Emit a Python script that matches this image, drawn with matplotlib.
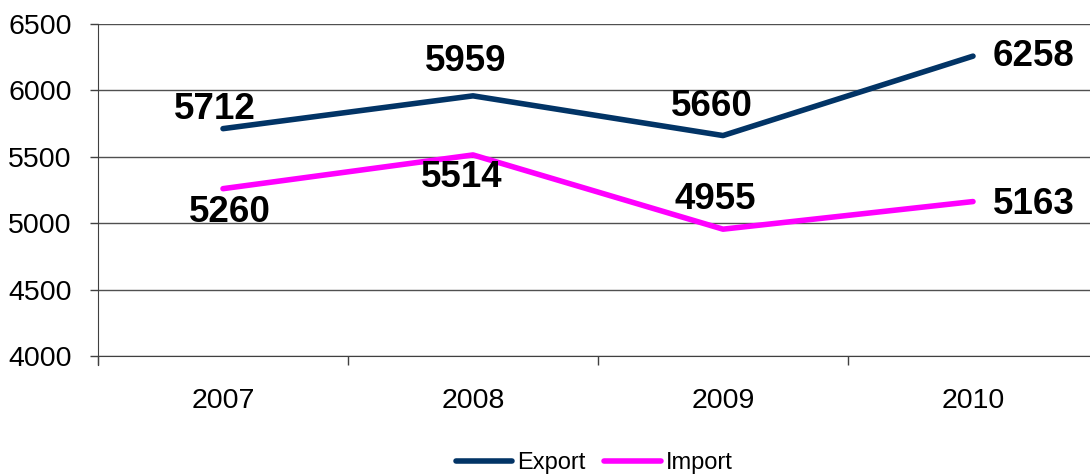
import matplotlib.pyplot as plt
import numpy as np

plt.rcParams['font.family'] = ['Liberation Sans', 'DejaVu Sans']

years = ['2007', '2008', '2009', '2010']
export_vals = [5712, 5959, 5660, 6258]
import_vals = [5260, 5514, 4955, 5163]

# label offsets in pixels (dx, dy) from each point
export_offsets = [(-8, 19), (-7, 34), (-11, 29), (60, 0)]
import_offsets = [(7, -24), (-11, -23), (-8, 30), (61, -3)]

fig = plt.figure(figsize=(10.9, 4.74), dpi=100)
ax = fig.add_axes([98 / 1090, 1 - 356 / 474, 1000 / 1090, 332 / 474])

x = np.arange(len(years))
ax.plot(x, export_vals, color='#023466', lw=4, label='Export', solid_capstyle='round')
ax.plot(x, import_vals, color='#FF00FF', lw=4, label='Import', solid_capstyle='round')

px = 0.72  # pixels -> points
for xs, vals, offs in [(x, export_vals, export_offsets), (x, import_vals, import_offsets)]:
    for xi, v, (dx, dy) in zip(xs, vals, offs):
        ax.annotate(str(v), (xi, v), xytext=(dx * px, dy * px), textcoords='offset points',
                    ha='center', va='center', fontsize=26.5, fontweight='bold', color='black')

ax.set_xlim(-0.5, len(years) - 0.5)
ax.set_ylim(4000, 6500)
ax.set_yticks(np.arange(4000, 6501, 500))
ax.set_xticks(x)
ax.set_xticklabels(years)
ax.set_xticks(np.arange(-0.5, len(years), 1), minor=True)
ax.tick_params(axis='x', which='major', length=0, pad=23, labelsize=20.5)
ax.tick_params(axis='x', which='minor', length=6.5, width=1, color='#404040', direction='out')
ax.tick_params(axis='y', length=6, width=1, color='#404040', pad=13, labelsize=20.5)

ax.yaxis.grid(True, color='#505050', lw=1)
ax.set_axisbelow(True)
for s in ['top', 'right']:
    ax.spines[s].set_visible(False)
ax.spines['left'].set_color('#404040')
ax.spines['bottom'].set_color('#404040')
ax.spines['left'].set_bounds(4000 - 68, 6500)

fig.legend(loc='center', bbox_to_anchor=(594 / 1090, 1 - 463 / 474), ncol=2, frameon=False,
           fontsize=17, handlelength=2.4, handletextpad=0.2, columnspacing=0.8,
           borderpad=0, borderaxespad=0)

plt.savefig('out.png', dpi=100)
